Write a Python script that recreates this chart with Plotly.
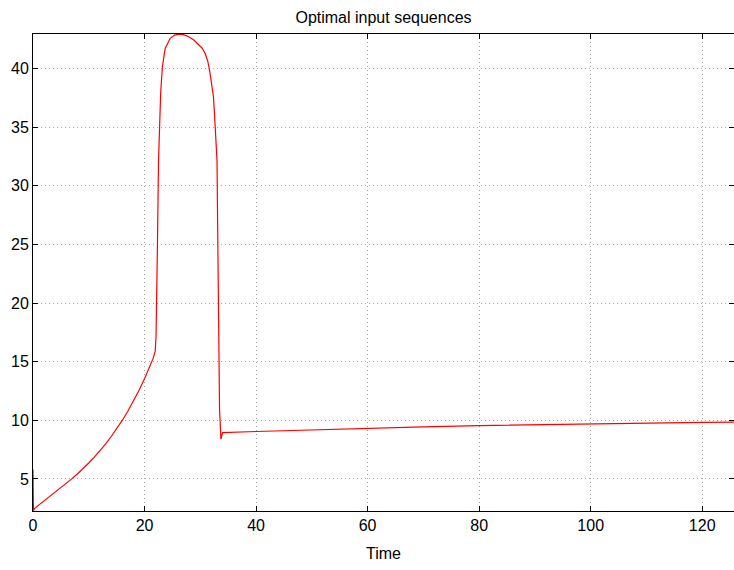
import plotly.graph_objects as go

# Optimal control input u(t)
time = [0, 0.08, 0.3, 1, 2, 3, 4, 5, 6, 7, 8, 9, 10, 11, 12, 13, 14, 15,
        16, 17, 18, 19, 20, 21, 21.5, 21.9, 22.06, 22.3, 22.5, 22.9, 23.2,
        23.7, 24.2, 24.6, 25.4, 26.2, 27.0, 27.9, 28.8, 29.65, 30.3, 30.85,
        31.35, 31.75, 32.1, 32.35, 32.5, 32.65, 32.85, 33.0, 33.1, 33.4,
        33.45, 33.7, 34.0, 40, 50, 60, 66, 70, 80, 90, 100, 110, 120, 125.7]
u = [5.8, 2.3, 2.5, 2.76, 3.12, 3.485, 3.855, 4.235, 4.625, 5.03, 5.45,
     5.89, 6.36, 6.86, 7.40, 7.98, 8.60, 9.27, 9.99, 10.77, 11.62, 12.54,
     13.54, 14.64, 15.24, 15.85, 17.1, 24.4, 32.0, 38.0, 40.15, 41.7, 42.25,
     42.57, 42.85, 42.93, 42.88, 42.7, 42.45, 42.1, 41.75, 41.3, 40.6, 39.6,
     38.6, 37.6, 36.5, 35.0, 33.5, 32.1, 27.1, 14.3, 10.9, 8.4, 8.95, 9.05,
     9.2, 9.33, 9.4, 9.45, 9.55, 9.63, 9.7, 9.77, 9.82, 9.85]

x_ticks = [0, 20, 40, 60, 80, 100, 120]
y_ticks = [5, 10, 15, 20, 25, 30, 35, 40]

font = dict(family="Liberation Sans, Arial, sans-serif", size=16, color="black")

fig = go.Figure(go.Scatter(x=time, y=u, mode="lines",
                           line=dict(color="#ff0000", width=1.2, shape="linear"),
                           showlegend=False))

axis_common = dict(
    showline=True, linecolor="black", linewidth=1, mirror="ticks",
    ticks="inside", ticklen=5, tickcolor="black", tickwidth=1,
    showgrid=True, gridcolor="#a8a8a8", gridwidth=1, griddash="1px,3px",
    zeroline=False, tickfont=font,
)

fig.update_xaxes(range=[0, 125.7], tickvals=x_ticks,
                 title=dict(text="Time", font=font, standoff=14),
                 **axis_common)
fig.update_yaxes(range=[2.27, 42.94], tickvals=y_ticks, **axis_common)

fig.update_layout(
    width=734, height=570,
    margin=dict(l=33, r=0, t=34, b=59),
    paper_bgcolor="white", plot_bgcolor="white",
    title=dict(text="Optimal input sequences", font=font,
               x=(33 + 734) / 2 / 734, xanchor="center", y=1 - 17 / 570,
               yanchor="middle"),
    font=font,
)

fig.write_html("out.html")
